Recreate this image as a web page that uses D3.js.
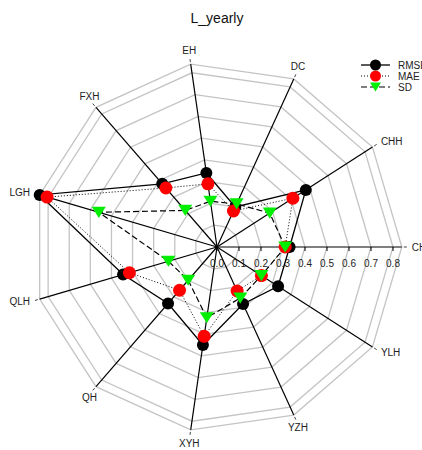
<!DOCTYPE html>
<html>
<head>
<meta charset="utf-8">
<script src="https://cdn.jsdelivr.net/npm/d3@7"></script>
<style>
  body { margin: 0; background: #fff; }
  text { font-family: Arial, "Liberation Sans", sans-serif; }
</style>
</head>
<body>
<svg id="chart" width="422" height="450"></svg>
<script>
// 雷达图数据
const axes = ["CH", "CHH", "DC", "EH", "FXH", "LGH", "QLH", "QH", "XYH", "YZH", "YLH"];
const rmse = [0.33, 0.48, 0.20, 0.34, 0.38, 0.84, 0.445, 0.34, 0.45, 0.285, 0.33];
const mae  = [0.31, 0.41, 0.18, 0.29, 0.355, 0.805, 0.415, 0.26, 0.41, 0.22, 0.24];
const sd   = [0.31, 0.285, 0.215, 0.21, 0.22, 0.56, 0.23, 0.20, 0.325, 0.255, 0.24];
const ringTicks = [0.1, 0.2, 0.3, 0.4, 0.5, 0.6, 0.7, 0.8];
const tickLabels = ["0.0", "0.1", "0.2", "0.3", "0.4", "0.5", "0.6", "0.7", "0.8"];
const seriesNames = ["RMSE", "MAE", "SD"];

const svg = d3.select("#chart");
const cx = 217, cy = 247;
const maxVal = d3.max(rmse.concat(mae, sd));  // 外圈 = 最大值

const r = d3.scaleLinear().domain([0, 1]).range([0, 220]);
const ang = d3.scaleLinear().domain([0, axes.length]).range([0, 2 * Math.PI]);

function pt(i, v) {
  const a = ang(i);
  return [cx + r(v) * Math.cos(a), cy - r(v) * Math.sin(a)];
}

// 标题
svg.append("text")
  .attr("x", 217).attr("y", 23)
  .attr("text-anchor", "middle")
  .attr("font-size", 14)
  .attr("fill", "#111")
  .text("L_yearly");

// 灰色网格
const grid = svg.append("g");
ringTicks.concat([maxVal]).forEach(v => {
  grid.append("path")
    .attr("d", d3.line()(axes.map((a, i) => pt(i, v))) + "Z")
    .attr("fill", "none")
    .attr("stroke", "#c4c4c4")
    .attr("stroke-width", 1.3);
});

// 轴线 + 轴标签
const axG = svg.append("g");
axes.forEach((name, i) => {
  const e = pt(i, maxVal);
  axG.append("line")
    .attr("x1", cx).attr("y1", cy).attr("x2", e[0]).attr("y2", e[1])
    .attr("stroke", "#000").attr("stroke-width", 1.2);
  const a = ang(i), c = Math.cos(a), s = Math.sin(a);
  const rr = r(maxVal);
  axG.append("line")
    .attr("x1", cx + (rr + 2) * c).attr("y1", cy - (rr + 2) * s)
    .attr("x2", cx + (rr + 5) * c).attr("y2", cy - (rr + 5) * s)
    .attr("stroke", "#444").attr("stroke-width", 1);
  const lx = cx + (rr + 10) * c, ly = cy - (rr + 10) * s;
  axG.append("text")
    .attr("x", lx).attr("y", ly)
    .attr("text-anchor", c > 0.7 ? "start" : c < -0.7 ? "end" : "middle")
    .attr("dominant-baseline", s > 0.7 ? "alphabetic" : s < -0.7 ? "hanging" : "central")
    .attr("font-size", 10)
    .attr("fill", "#222")
    .text(name);
});

// CH 轴上的刻度
tickLabels.forEach((t, k) => {
  const x = cx + r(+t);
  axG.append("line")
    .attr("x1", x).attr("y1", cy).attr("x2", x).attr("y2", cy + 4)
    .attr("stroke", "#000").attr("stroke-width", 1);
  axG.append("text")
    .attr("x", x).attr("y", cy + 20)
    .attr("text-anchor", "middle")
    .attr("font-size", 10)
    .attr("fill", "#222")
    .text(t);
});

// 系列
const styles = [
  { data: rmse, dash: null, width: 1.3, color: "#000", marker: "circle", size: 6 },
  { data: mae, dash: "1,2", width: 1, color: "#ff0000", marker: "circle", size: 6.5 },
  { data: sd, dash: "6,3", width: 1.2, color: "#00ee00", marker: "triangle", size: 7 }
];

function drawMarker(g, st, x, y, size) {
  if (st.marker === "circle") {
    g.append("circle").attr("cx", x).attr("cy", y).attr("r", size).attr("fill", st.color);
  } else {
    const h = size * 1.6;
    g.append("path")
      .attr("d", `M${x - size},${y - h / 2}L${x + size},${y - h / 2}L${x},${y + h / 2}Z`)
      .attr("fill", st.color);
  }
}

styles.forEach(st => {
  const g = svg.append("g");
  g.append("path")
    .attr("d", d3.line()(st.data.map((v, i) => pt(i, v))) + "Z")
    .attr("fill", "none")
    .attr("stroke", "#000")
    .attr("stroke-width", st.width)
    .attr("stroke-dasharray", st.dash);
});
styles.forEach(st => {
  const g = svg.append("g");
  st.data.forEach((v, i) => {
    const p = pt(i, v);
    drawMarker(g, st, p[0], p[1], st.size);
  });
});

// 图例
const leg = svg.append("g");
seriesNames.forEach((n, k) => {
  const st = styles[k];
  const y = 65 + k * 11;
  leg.append("line")
    .attr("x1", 361).attr("y1", y).attr("x2", 390).attr("y2", y)
    .attr("stroke", "#000").attr("stroke-width", st.width)
    .attr("stroke-dasharray", st.dash);
  drawMarker(leg, st, 375.5, y, 5.5);
  leg.append("text")
    .attr("x", 398).attr("y", y)
    .attr("dominant-baseline", "central")
    .attr("font-size", 10)
    .attr("fill", "#222")
    .text(n);
});
</script>
</body>
</html>
